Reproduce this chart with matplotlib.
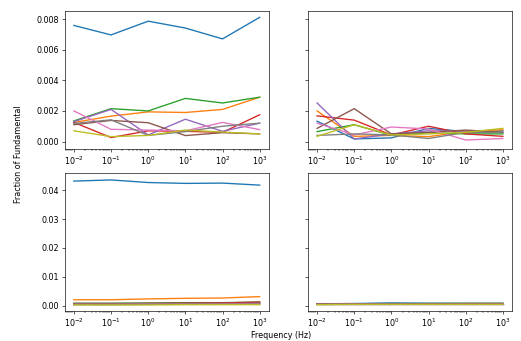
import numpy as np
import matplotlib
matplotlib.use("Agg")
import matplotlib.pyplot as plt

freq = [1e-2, 1e-1, 1e0, 1e1, 1e2, 1e3]

# top-left panel
tl = {
    "C0": [0.00759, 0.00697, 0.00787, 0.00742, 0.00671, 0.00812],
    "C1": [0.00125, 0.00166, 0.00194, 0.00190, 0.00210, 0.00290],
    "C2": [0.00135, 0.00215, 0.00200, 0.00282, 0.00252, 0.00290],
    "C3": [0.00125, 0.00026, 0.00070, 0.00067, 0.00060, 0.00175],
    "C4": [0.00130, 0.00210, 0.00043, 0.00146, 0.00067, 0.00120],
    "C5": [0.00110, 0.00138, 0.00123, 0.00039, 0.00058, 0.00050],
    "C6": [0.00200, 0.00080, 0.00075, 0.00070, 0.00125, 0.00078],
    "C7": [0.00118, 0.00142, 0.00040, 0.00065, 0.00100, 0.00120],
    "C8": [0.00070, 0.00032, 0.00040, 0.00075, 0.00062, 0.00050],
}

# top-right panel
tr = {
    "C0": [0.00133, 0.00017, 0.00024, 0.00086, 0.00065, 0.00070],
    "C1": [0.00200, 0.00034, 0.00040, 0.00032, 0.00065, 0.00077],
    "C2": [0.00065, 0.00110, 0.00040, 0.00058, 0.00050, 0.00050],
    "C3": [0.00168, 0.00140, 0.00043, 0.00100, 0.00050, 0.00034],
    "C4": [0.00252, 0.00017, 0.00050, 0.00070, 0.00070, 0.00060],
    "C5": [0.00086, 0.00215, 0.00050, 0.00060, 0.00075, 0.00060],
    "C6": [0.00120, 0.00043, 0.00095, 0.00082, 0.00010, 0.00020],
    "C7": [0.00040, 0.00050, 0.00043, 0.00020, 0.00060, 0.00060],
    "C8": [0.00034, 0.00110, 0.00043, 0.00050, 0.00060, 0.00086],
}

# bottom-left panel
bl = {
    "C0": [0.0432, 0.0436, 0.0427, 0.0424, 0.0425, 0.0418],
    "C1": [0.0020, 0.0020, 0.0023, 0.0025, 0.0026, 0.0031],
    "C2": [0.0008, 0.0008, 0.0009, 0.0010, 0.0010, 0.0012],
    "C3": [0.0006, 0.0006, 0.0007, 0.0008, 0.0009, 0.0012],
    "C4": [0.0005, 0.0005, 0.0005, 0.0006, 0.0006, 0.0007],
    "C5": [0.0007, 0.0007, 0.0007, 0.0007, 0.0007, 0.0008],
    "C6": [0.0004, 0.0004, 0.0005, 0.0005, 0.0005, 0.0006],
    "C7": [0.0003, 0.0003, 0.0004, 0.0004, 0.0004, 0.0005],
    "C8": [0.0002, 0.0002, 0.0002, 0.0003, 0.0003, 0.0003],
}

# bottom-right panel
br = {
    "C0": [0.0006, 0.0007, 0.0009, 0.0008, 0.0008, 0.0008],
    "C1": [0.0005, 0.0006, 0.0006, 0.0006, 0.0007, 0.0007],
    "C2": [0.0006, 0.0006, 0.0007, 0.0007, 0.0007, 0.0007],
    "C3": [0.0005, 0.0005, 0.0005, 0.0006, 0.0006, 0.0006],
    "C4": [0.0004, 0.0005, 0.0005, 0.0005, 0.0005, 0.0005],
    "C5": [0.0004, 0.0004, 0.0004, 0.0005, 0.0005, 0.0005],
    "C6": [0.0005, 0.0005, 0.0005, 0.0005, 0.0005, 0.0005],
    "C7": [0.0004, 0.0004, 0.0004, 0.0004, 0.0004, 0.0004],
    "C8": [0.0003, 0.0004, 0.0004, 0.0004, 0.0004, 0.0004],
}

dpi = 57.57
fig, axes = plt.subplots(2, 2, figsize=(521 / dpi, 341 / dpi), dpi=dpi, sharey="row")
fig.subplots_adjust(left=0.124, right=0.983, top=0.968, bottom=0.088,
                    wspace=0.19, hspace=0.175)

for ax, panel in zip(axes.flat, [tl, tr, bl, br]):
    for c, vals in panel.items():
        ax.plot(freq, vals, color=c, linewidth=1.7)
    ax.set_xscale("log")

axes[0, 0].set_ylim(-0.00048, 0.00854)
axes[1, 0].set_ylim(-0.0019, 0.046)
axes[0, 0].set_yticks([0.0, 0.002, 0.004, 0.006, 0.008])
axes[1, 0].set_yticks([0.0, 0.01, 0.02, 0.03, 0.04])

fig.text(280.7 / 521, 1 - 335 / 341, "Frequency (Hz)", ha="center", va="center")
fig.text(18.3 / 521, 1 - 154.5 / 341, "Fraction of Fundamental",
         rotation=90, ha="center", va="center")

fig.savefig("out.png", dpi=dpi)
